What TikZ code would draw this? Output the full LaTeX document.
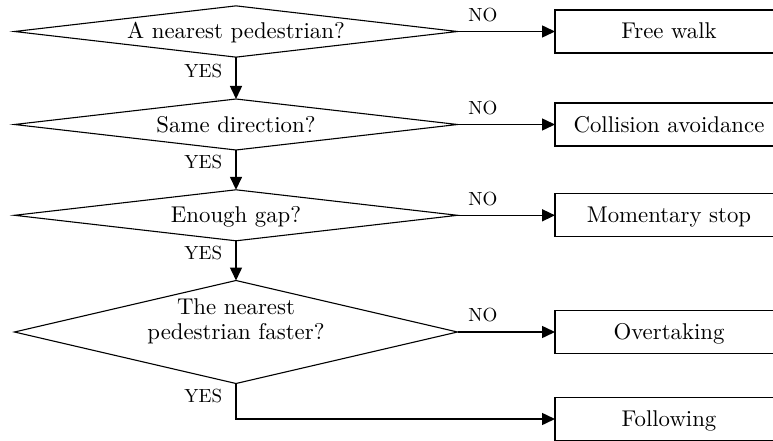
\documentclass[tikz,border=0pt]{standalone}
\usepackage{fontspec}
\setmainfont{lmroman10-regular.otf}
\usetikzlibrary{shapes.geometric,arrows.meta}
\begin{document}
\begin{tikzpicture}[x=1pt,y=-1pt,
  dec/.style={diamond, draw, line width=1.1pt, aspect=6, minimum width=443pt, minimum height=51pt,
    inner sep=0pt, outer sep=0pt, font=\fontsize{22.8}{25}\selectfont, align=center,
    text height=15pt, text depth=0pt},
  res/.style={rectangle, draw, line width=1.2pt, minimum width=228pt, minimum height=43pt,
    inner sep=0pt, outer sep=0pt, font=\fontsize{22.8}{25}\selectfont,
    text height=15pt, text depth=0pt},
  arr/.style={line width=1.5pt, -{Triangle[length=13pt,width=12pt]}},
  lab/.style={font=\fontsize{19}{21}\selectfont, inner sep=0pt},
  nolab/.style={lab, pos=0.26, anchor=south, yshift=9pt},
  yeslab/.style={lab, anchor=east, xshift=-13pt}
]
\useasboundingbox (0,0) rectangle (773,441);

\node[dec] (d1) at (236,31.5) {A nearest pedestrian?};
\node[dec] (d2) at (236,124.5) {Same direction?};
\node[dec] (d3) at (236,215.3) {Enough gap?};
\node[dec, minimum height=103pt] (d4) at (236,332) {The nearest\\pedestrian faster?};

\node[res] (b1) at (669,31.5) {Free walk};
\node[res] (b2) at (669,124.5) {Collision avoidance};
\node[res] (b3) at (669,215.3) {Momentary stop};
\node[res] (b4) at (669,332) {Overtaking};
\node[res] (b5) at (669,419) {Following};

\draw[arr] (d1.east) -- node[nolab] {NO} (b1.west);
\draw[arr] (d2.east) -- node[nolab] {NO} (b2.west);
\draw[arr] (d3.east) -- node[nolab] {NO} (b3.west);
\draw[arr] (d4.east) -- node[nolab] {NO} (b4.west);

\draw[arr] (d1.south) -- node[yeslab, pos=0.32] {YES} (d2.north);
\draw[arr] (d2.south) -- node[yeslab, pos=0.29] {YES} (d3.north);
\draw[arr] (d3.south) -- node[yeslab, pos=0.31] {YES} (d4.north);
\draw[arr] (d4.south) |- node[yeslab, pos=0.17] {YES} (b5.west);
\end{tikzpicture}
\end{document}
